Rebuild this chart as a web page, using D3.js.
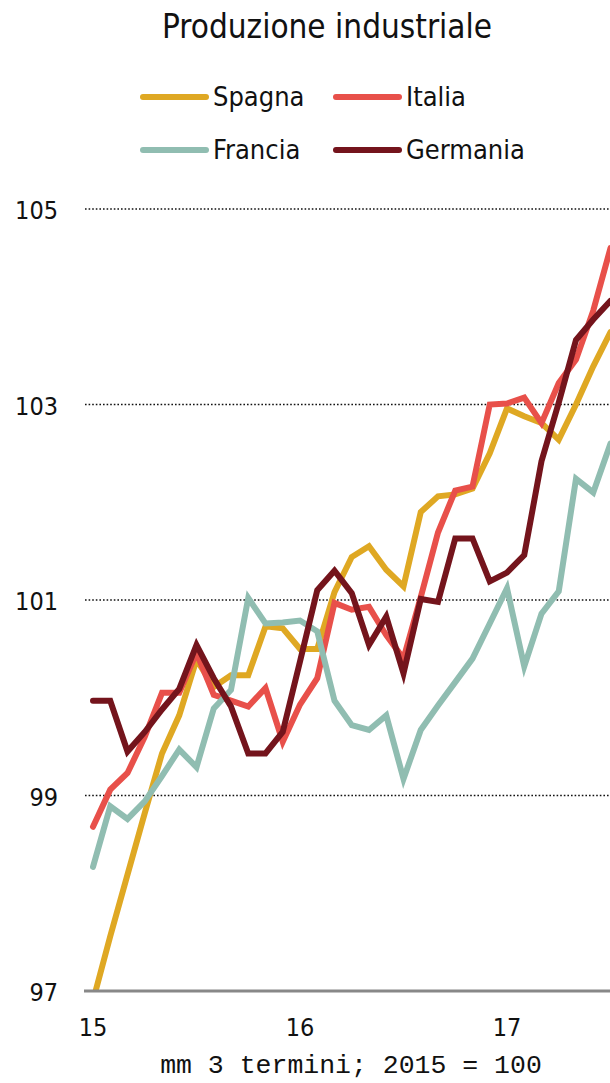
<!DOCTYPE html>
<html><head><meta charset="utf-8">
<script src="https://cdn.jsdelivr.net/npm/d3@7"></script>
<style>
html,body{margin:0;padding:0;background:#fff;}
svg{display:block;}
.cond{font-family:"Liberation Sans Narrow","DejaVu Sans Condensed","Roboto",sans-serif;font-stretch:condensed;}
.mono{font-family:"Liberation Mono","DejaVu Sans Mono",monospace;}
</style>
</head><body>
<svg id="c" width="610" height="1083"></svg>
<script>
const months = d3.range(31).map(i => { const y = 2015 + Math.floor(i/12), m = i%12 + 1; return y + "-" + String(m).padStart(2,"0"); });
const xTickMonths = ["2015-01","2016-01","2017-01"];
const xTickLabels = ["15","16","17"];
const yTicks = [97,99,101,103,105];
const seriesNames = ["Spagna","Italia","Francia","Germania"];
const seriesColors = ["#dfa823","#e8504a","#90bdb1","#74141c"];
const spagna = [96.9,97.56,98.19,98.82,99.43,99.82,100.39,100.11,100.23,100.23,100.73,100.71,100.50,100.50,101.08,101.44,101.55,101.31,101.14,101.90,102.06,102.08,102.14,102.50,102.96,102.88,102.81,102.64,103.0,103.39,103.74];
const italia = [98.68,99.06,99.23,99.60,100.05,100.05,100.46,100.03,99.97,99.91,100.10,99.55,99.93,100.20,100.97,100.90,100.93,100.64,100.40,101.03,101.69,102.12,102.16,103.00,103.01,103.07,102.81,103.22,103.46,103.96,104.60];
const francia = [98.27,98.89,98.76,98.94,99.20,99.47,99.29,99.89,100.08,101.02,100.76,100.77,100.79,100.68,99.97,99.72,99.67,99.82,99.17,99.67,99.92,100.16,100.40,100.76,101.12,100.32,100.86,101.09,102.24,102.10,102.60];
const germania = [99.97,99.97,99.45,99.65,99.88,100.09,100.54,100.20,99.91,99.43,99.43,99.65,100.37,101.10,101.30,101.07,100.54,100.83,100.25,101.01,100.98,101.63,101.63,101.19,101.28,101.46,102.42,103.02,103.66,103.87,104.06];
const title = "Produzione industriale";
const footnote = "mm 3 termini; 2015 = 100";

const seriesData = [spagna, italia, francia, germania];
const svg = d3.select("#c");

const x = d3.scalePoint().domain(months).range([93, 610.5]);
const y = d3.scaleLinear().domain([97,105]).range([991, 209]);

svg.append("text").attr("class","cond").attr("x",327).attr("y",38)
  .attr("text-anchor","middle").attr("font-size",33).attr("fill","#111").text(title);

// legend
const legPos = [[140,97],[333,97],[140,150],[333,150]];
seriesNames.forEach((n,i)=>{
  const [lx,ly] = legPos[i];
  svg.append("line").attr("x1",lx+3).attr("x2",lx+66).attr("y1",ly).attr("y2",ly)
    .attr("stroke",seriesColors[i]).attr("stroke-width",6).attr("stroke-linecap","round");
  svg.append("text").attr("class","cond").attr("x",lx+73).attr("y",ly+9)
    .attr("font-size",27).attr("fill","#111").text(n);
});

// gridlines
svg.append("g").selectAll("line").data(yTicks.filter(v=>v>97)).join("line")
  .attr("x1",85).attr("x2",610).attr("y1",d=>y(d)).attr("y2",d=>y(d))
  .attr("stroke","#111").attr("stroke-width",1.6).attr("stroke-dasharray","1.6,2");

// y labels
svg.append("g").selectAll("text").data(yTicks).join("text").attr("class","cond")
  .attr("x",58).attr("y",d=>y(d)+10).attr("text-anchor","end").attr("font-size",25).attr("fill","#111")
  .text(d=>d);

// x labels
svg.append("g").selectAll("text").data(xTickMonths).join("text").attr("class","cond")
  .attr("x",d=>x(d)).attr("y",1036).attr("text-anchor","middle").attr("font-size",25).attr("fill","#111")
  .text((d,i)=>xTickLabels[i]);

svg.append("defs").append("clipPath").attr("id","pc").append("rect")
  .attr("x",0).attr("y",0).attr("width",610).attr("height",991);

const line = d3.line().x((d,i)=>x(months[i])).y(d=>y(d));
const lg = svg.append("g").attr("clip-path","url(#pc)");
seriesData.forEach((s,i)=>{
  lg.append("path").datum(s).attr("d",line).attr("fill","none")
    .attr("stroke",seriesColors[i]).attr("stroke-width",6).attr("stroke-linejoin","miter").attr("stroke-linecap","round");
});

// baseline
svg.append("line").attr("x1",84).attr("x2",610).attr("y1",y(97)).attr("y2",y(97))
  .attr("stroke","#888").attr("stroke-width",3);

svg.append("text").attr("class","mono").attr("x",351).attr("y",1073).attr("text-anchor","middle")
  .attr("font-size",26.5).attr("fill","#111").text(footnote);
</script>
</body></html>
